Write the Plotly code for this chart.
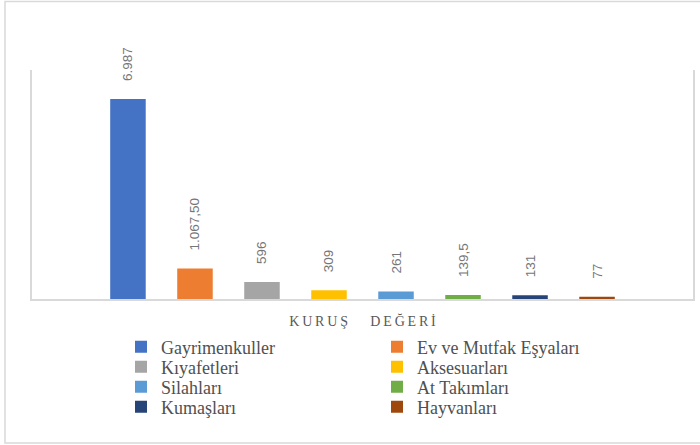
import plotly.graph_objects as go

category = "KURUŞ DEĞERİ"
category_label = "K\u2009U\u2009R\u2009U\u2009Ş\u2009\u2003\u2009\u2009D\u2009E\u2009Ğ\u2009E\u2009R\u2009İ"
series = ["Gayrimenkuller", "Ev ve Mutfak Eşyaları", "Kıyafetleri", "Aksesuarları",
          "Silahları", "At Takımları", "Kumaşları", "Hayvanları"]
values = [6987, 1067.5, 596, 309, 261, 139.5, 131, 77]
value_labels = ["6.987", "1.067,50", "596", "309", "261", "139,5", "131", "77"]
colors = ["#4472C4", "#ED7D31", "#A5A5A5", "#FFC000", "#5B9BD5", "#70AD47", "#264478", "#9E480E"]

W, H = 700, 445
ML, MR, MT, MB = 32, 7, 70, 146
PW, PH = W - ML - MR, H - MT - MB
BASE = H - MB

fig = go.Figure()
legend_names = ["legend", "legend2", "legend3", "legend4"]
for i, (name, v, lab, c) in enumerate(zip(series, values, value_labels, colors)):
    fig.add_trace(go.Bar(
        x=[category], y=[v], name=name,
        marker=dict(color=c, line=dict(width=0)),
        text=["\u00a0\u00a0\u00a0\u00a0" + lab], textposition="outside", textangle=-90,
        textfont=dict(family="Liberation Sans", size=13.5, color="#767676"),
        constraintext="none", cliponaxis=False,
        legend=legend_names[i // 2],
        hoverinfo="skip",
    ))

row_y = [347, 367, 387, 407]
legend_common = dict(
    orientation="h", xref="container", yref="container",
    xanchor="left", yanchor="middle", entrywidth=211, entrywidthmode="pixels",
    font=dict(family="Liberation Serif", size=18, color="#505050"),
    bgcolor="rgba(0,0,0,0)", itemwidth=30, tracegroupgap=0,
)
legend_layout = {}
for r, ln in enumerate(legend_names):
    legend_layout[ln] = dict(legend_common, x=121 / W, y=1 - row_y[r] / H)

fig.update_layout(
    width=W, height=H,
    margin=dict(l=ML, r=MR, t=MT, b=MB, autoexpand=False),
    paper_bgcolor="white", plot_bgcolor="white",
    barmode="group", bargap=0.189, bargroupgap=0.47,
    showlegend=True,
    xaxis=dict(
        type="category", range=[-0.5, 0.5],
        tickvals=[category], ticktext=[category_label],
        tickfont=dict(family="Liberation Serif", size=14, color="#595959"),
        showline=True, linecolor="#d9d9d9", linewidth=1.5,
        showgrid=False, ticks="", ticklabelstandoff=8, fixedrange=True,
        automargin=False,
    ),
    yaxis=dict(
        range=[0, 8000], showticklabels=False, showgrid=False, zeroline=False,
        showline=True, mirror=True, linecolor="#d9d9d9", linewidth=1.5, ticks="",
        fixedrange=True, automargin=False,
    ),
    shapes=[dict(
        type="rect", xref="paper", yref="paper",
        x0=(5 - ML) / PW, x1=(702 - ML) / PW,
        y0=(BASE - 443) / PH, y1=(BASE - 1.5) / PH,
        line=dict(color="#d9d9d9", width=1.5), fillcolor="rgba(0,0,0,0)", layer="below",
    )],
    **legend_layout,
)

fig.write_html(
    "out.html",
    config={"displayModeBar": False},
    post_script="document.body.style.margin='0';document.body.style.overflow='hidden';",
)
